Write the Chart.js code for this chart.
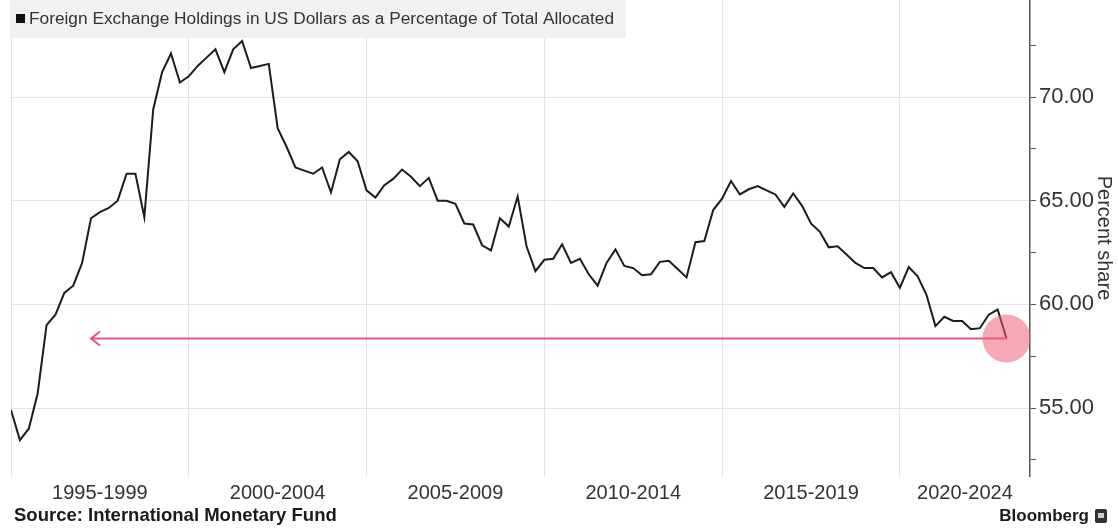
<!DOCTYPE html>
<html>
<head>
<meta charset="utf-8">
<title>USD share of allocated reserves</title>
<script src="https://cdn.jsdelivr.net/npm/chart.js@4.4.1/dist/chart.umd.min.js"></script>
<style>
  html, body { margin: 0; padding: 0; background: #fff; }
  #wrap { width: 1118px; height: 530px; position: relative; }
</style>
</head>
<body>
<div id="wrap"><canvas id="graphic" width="1118" height="530"></canvas></div>
<script>
// quarterly USD share of allocated FX reserves, first point at start of 1995
const firstYear = 1995;
const usdShare = [
  54.9, 53.45, 54.0, 55.7, 59.0, 59.5, 60.55, 60.9, 62.0, 64.15,
  64.45, 64.65, 65.0, 66.3, 66.3, 64.2, 69.4, 71.2, 72.1, 70.7,
  71.0, 71.5, 71.9, 72.3, 71.2, 72.3, 72.7, 71.4, 71.5, 71.6,
  68.5, 67.6, 66.6, 66.45, 66.3, 66.6, 65.4, 67.0, 67.35, 66.9,
  65.5, 65.15, 65.75, 66.05, 66.5, 66.15, 65.7, 66.1, 65.0, 65.0,
  64.85, 63.9, 63.85, 62.85, 62.6, 64.15, 63.75, 65.2, 62.8, 61.6,
  62.15, 62.2, 62.9, 62.0, 62.2, 61.45, 60.9, 62.0, 62.65, 61.85,
  61.75, 61.4, 61.45, 62.05, 62.1, 61.7, 61.3, 63.0, 63.05, 64.55,
  65.1, 65.95, 65.3, 65.55, 65.7, 65.5, 65.3, 64.7, 65.35, 64.75,
  63.9, 63.5, 62.75, 62.8, 62.4, 62.0, 61.75, 61.75, 61.3, 61.55,
  60.8, 61.8, 61.35, 60.45, 58.95, 59.4, 59.2, 59.2, 58.8, 58.85,
  59.5, 59.75, 58.35
];

const periodLabels = ['1995-1999', '2000-2004', '2005-2009', '2010-2014', '2015-2019', '2020-2024'];
const gridYears = [1995, 2000, 2005, 2010, 2015, 2020];
const yTicks = [52.5, 55, 57.5, 60, 62.5, 65, 67.5, 70, 72.5];

const seriesName = 'Foreign Exchange Holdings in US Dollars as a Percentage of Total Allocated';
const arrowFromYear = 1997.25;

const FONT = "'Liberation Sans', Arial, sans-serif";
const points = usdShare.map((v, i) => ({ x: firstYear + i / 4, y: v }));

const extras = {
  id: 'extras',
  afterDraw(chart) {
    const c = chart.ctx;
    const xs = chart.scales.x, ys = chart.scales.y;
    const area = chart.chartArea;

    // pink arrow back from the latest reading, with a dot at the end
    const last = points[points.length - 1];
    const yl = ys.getPixelForValue(last.y);
    const xl = xs.getPixelForValue(last.x);
    const xa = xs.getPixelForValue(arrowFromYear);
    c.save();
    c.strokeStyle = '#e2577a';
    c.lineWidth = 2;
    c.beginPath();
    c.moveTo(xl, yl);
    c.lineTo(xa, yl);
    c.moveTo(xa + 9, yl - 7);
    c.lineTo(xa, yl);
    c.lineTo(xa + 9, yl + 7);
    c.stroke();
    c.fillStyle = 'rgba(240, 96, 124, 0.55)';
    c.beginPath();
    c.arc(xl, yl, 24, 0, Math.PI * 2);
    c.fill();
    c.restore();

    // legend box
    c.save();
    c.fillStyle = '#f1f1f1';
    c.fillRect(10, 0, 616, 38);
    c.fillStyle = '#111';
    c.fillRect(16, 14, 9, 9);
    c.fillStyle = '#333';
    c.font = '17.3px ' + FONT;
    c.textBaseline = 'middle';
    c.fillText(seriesName, 29, 19);
    c.restore();

    // period labels under each 5-year block
    c.save();
    c.fillStyle = '#333';
    c.font = '20px ' + FONT;
    c.textAlign = 'center';
    c.textBaseline = 'middle';
    periodLabels.forEach((lab, k) => {
      const a = xs.getPixelForValue(gridYears[k]);
      const b = Math.min(xs.getPixelForValue(gridYears[k] + 5), area.right);
      c.fillText(lab, (a + b) / 2, 493);
    });
    c.restore();

    // footer
    c.save();
    c.fillStyle = '#1a1a1a';
    c.textBaseline = 'middle';
    c.font = 'bold 18.5px ' + FONT;
    c.fillText('Source: International Monetary Fund', 14, 516);
    c.textAlign = 'right';
    c.font = 'bold 17px ' + FONT;
    c.fillText('Bloomberg', 1089, 516);
    c.fillStyle = '#333';
    c.beginPath();
    c.roundRect(1095, 509, 12, 14, 2);
    c.fill();
    c.fillStyle = '#ccc';
    c.fillRect(1098, 513, 6, 5);
    c.restore();
  }
};

new Chart(document.getElementById('graphic'), {
  type: 'line',
  data: {
    datasets: [{
      label: seriesName,
      data: points,
      borderColor: '#1c1c1c',
      borderWidth: 2,
      pointRadius: 0,
      tension: 0,
      fill: false
    }]
  },
  options: {
    responsive: false,
    animation: false,
    devicePixelRatio: 1,
    layout: { padding: { left: 11, right: 2, top: 0, bottom: 0 } },
    plugins: { legend: { display: false }, tooltip: { enabled: false } },
    scales: {
      x: {
        type: 'linear',
        min: firstYear,
        max: 2023.66,
        afterBuildTicks: s => { s.ticks = gridYears.map(v => ({ value: v })); },
        afterFit: s => { s.height = 54; s.paddingLeft = 0; s.paddingRight = 0; },
        grid: { color: '#e4e4e4', lineWidth: 1, drawTicks: false },
        border: { display: false },
        ticks: { display: false }
      },
      y: {
        position: 'right',
        min: 51.72,
        max: 74.68,
        afterBuildTicks: s => { s.ticks = yTicks.map(v => ({ value: v })); },
        afterFit: s => { s.width = 86; s.paddingTop = 0; s.paddingBottom = 0; },
        grid: {
          color: ctx => (ctx.tick && ctx.tick.value % 5 === 0) ? '#e4e4e4' : 'rgba(0,0,0,0)',
          tickColor: '#555',
          tickLength: 6,
          lineWidth: 1
        },
        border: { display: true, color: '#555', width: 1.5 },
        ticks: {
          padding: 3,
          color: '#333',
          font: { family: FONT, size: 22 },
          callback: v => v % 5 === 0 ? v.toFixed(2) : ''
        },
        title: {
          display: true,
          text: 'Percent share',
          color: '#333',
          font: { family: FONT, size: 20 },
          padding: { top: 0, bottom: 0 }
        }
      }
    }
  },
  plugins: [extras]
});
</script>
</body>
</html>
